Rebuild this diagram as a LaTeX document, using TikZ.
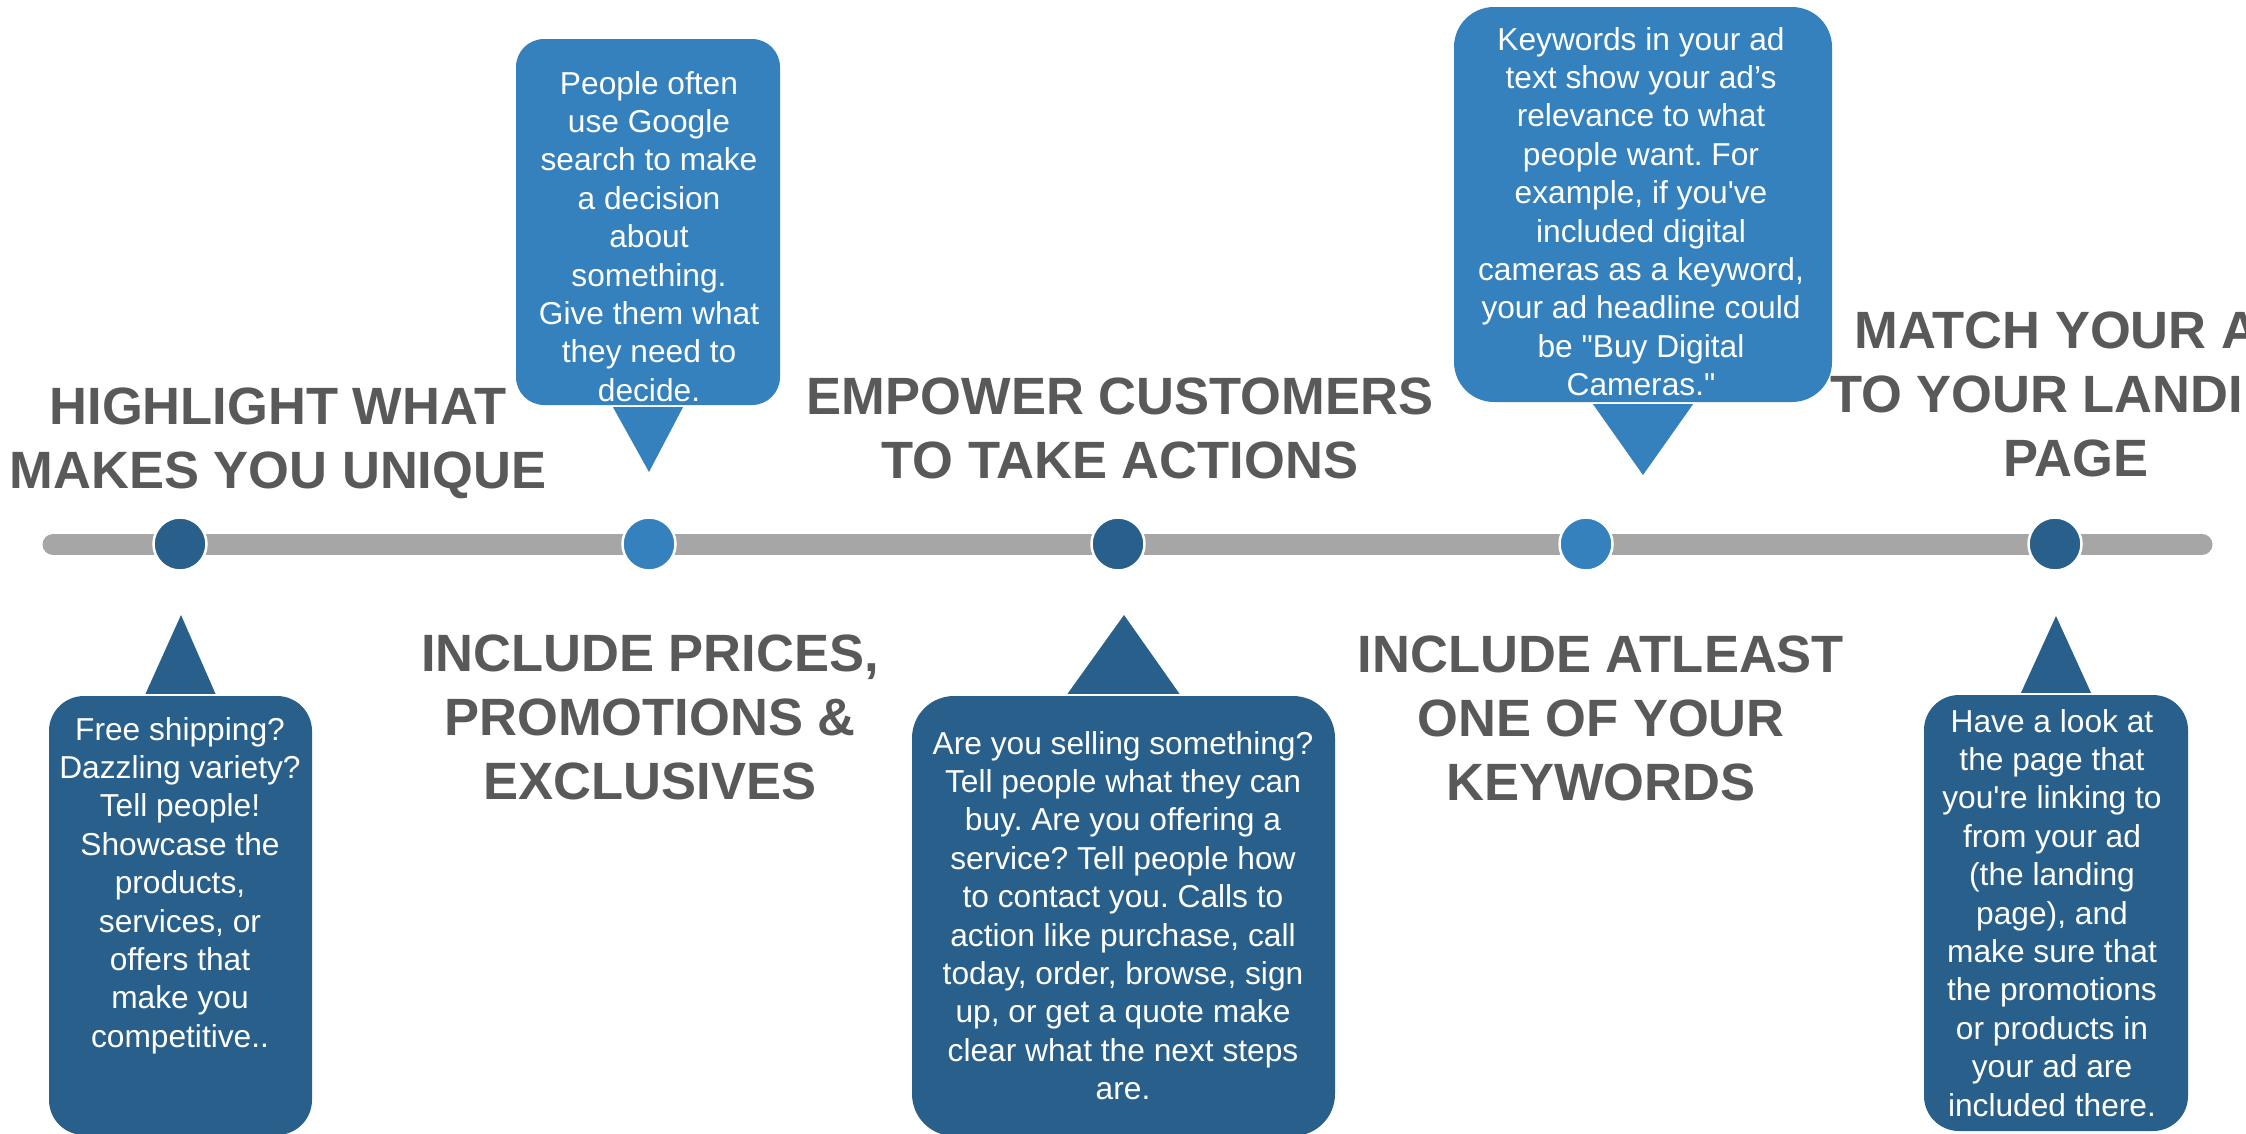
\documentclass[tikz,border=0pt]{standalone}
\usepackage{fontspec}
\setmainfont{Liberation Sans}[Ligatures=TeXOff]
\usepackage{tikz}
\frenchspacing

\definecolor{dkblue}{HTML}{29608B}
\definecolor{ltblue}{HTML}{3481BE}
\definecolor{barGray}{HTML}{A6A6A6}
\definecolor{headGray}{HTML}{595959}

\begin{document}
\begin{tikzpicture}[x=1pt,y=1pt,yscale=-1,
  dot/.style={circle,draw=white,line width=2.5pt,minimum size=53pt,inner sep=0pt},
  box/.style={inner sep=0pt,rounded corners=#1},box/.default=35pt,
  body/.style={anchor=north,inner sep=0pt,align=center,text=white,font=\fontsize{31.7}{38.4}\selectfont},
  head/.style={anchor=north,inner sep=0pt,align=center,text=headGray,font=\fontsize{52.5}{64}\selectfont\bfseries}]
\useasboundingbox (0,0) rectangle (2246,1133);

%Timeline bar
\coordinate (barL) at (53,544.5);
\coordinate (barR) at (2202,544.5);
\draw[barGray,line width=21pt,line cap=round] (barL) -- (barR);

%Dots
\node[dot,fill=dkblue] (d1) at (180,544) {};
\node[dot,fill=ltblue] (d2) at (649,544) {};
\node[dot,fill=dkblue] (d3) at (1118,544) {};
\node[dot,fill=ltblue] (d4) at (1586,544) {};
\node[dot,fill=dkblue] (d5) at (2055,544) {};

%Callout boxes
\node[box,fill=dkblue,minimum width=263pt,minimum height=439pt] (b1) at (180.5,915.5) {};
\node[box=28pt,fill=ltblue,minimum width=264pt,minimum height=366pt] (b2) at (648,222) {};
\node[box=42pt,fill=dkblue,minimum width=423pt,minimum height=440pt] (b3) at (1123.5,916) {};
\node[box=40pt,fill=ltblue,minimum width=378pt,minimum height=395pt] (b4) at (1643,204.5) {};
\node[box,fill=dkblue,minimum width=264pt,minimum height=436pt] (b5) at (2056,913) {};

%Pointer tips
\coordinate (p1) at (181,615);
\coordinate (p2) at (649,472);
\coordinate (p3) at (1124,615);
\coordinate (p4) at (1643,475);
\coordinate (p5) at (2056,616);

%Pointers
\fill[dkblue] ([xshift=-35pt,yshift=-2pt]b1.north) -- (p1) -- ([xshift=35pt,yshift=-2pt]b1.north) -- cycle;
\fill[ltblue] ([xshift=-35pt,yshift=2pt]b2.south) -- (p2) -- ([xshift=35pt,yshift=2pt]b2.south) -- cycle;
\fill[dkblue] ([xshift=-56pt,yshift=-2pt]b3.north) -- (p3) -- ([xshift=56pt,yshift=-2pt]b3.north) -- cycle;
\fill[ltblue] ([xshift=-50pt,yshift=2pt]b4.south) -- (p4) -- ([xshift=50pt,yshift=2pt]b4.south) -- cycle;
\fill[dkblue] ([xshift=-35pt,yshift=-2pt]b5.north) -- (p5) -- ([xshift=35pt,yshift=-2pt]b5.north) -- cycle;

% Text Node
\node[body] (t1) at (180,717) {Free shipping?\\Dazzling variety?\\Tell people!\\Showcase the\\products,\\services, or\\offers that\\make you\\competitive..};
% Text Node
\node[body] (t2) at (649,71) {People often\\use Google\\search to make\\a decision\\about\\something.\\Give them what\\they need to\\decide.};
% Text Node
\node[body] (t3) at (1123,731) {Are you selling something?\\Tell people what they can\\buy. Are you offering a\\service? Tell people how\\to contact you. Calls to\\action like purchase, call\\today, order, browse, sign\\up, or get a quote make\\clear what the next steps\\are.};
% Text Node
\node[body] (t4) at (1641,27) {Keywords in your ad\\text show your ad’s\\relevance to what\\people want. For\\example, if you've\\included digital\\cameras as a keyword,\\your ad headline could\\be "Buy Digital\\Cameras."};
% Text Node
\node[body] (t5) at (2052,709) {Have a look at\\the page that\\you're linking to\\from your ad\\(the landing\\page), and\\make sure that\\the promotions\\or products in\\your ad are\\included there.};

%Headings
\node[head] (h1) at (278,388) {HIGHLIGHT WHAT\\MAKES YOU UNIQUE};
\node[head] (h2) at (1120,378) {EMPOWER CUSTOMERS\\TO TAKE ACTIONS};
\node[head] (h3) at (650,635) {INCLUDE PRICES,\\PROMOTIONS \&\\EXCLUSIVES};
\node[head] (h4) at (1601,636) {INCLUDE ATLEAST\\ONE OF YOUR\\KEYWORDS};
\node[head] (h5) at (2076,312) {MATCH YOUR AD\\TO YOUR LANDING\\PAGE};

\end{tikzpicture}
\end{document}
